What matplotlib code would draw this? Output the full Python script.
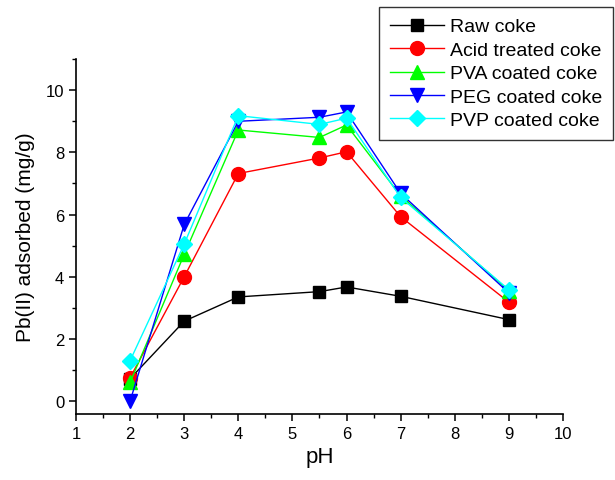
import matplotlib
matplotlib.use("Agg")
import matplotlib.pyplot as plt
from matplotlib.ticker import MultipleLocator

plt.rcParams["font.family"] = ["Liberation Sans", "DejaVu Sans"]

PH = [2, 3, 4, 5.5, 6, 7, 9]
RAW = [0.72, 2.57, 3.35, 3.52, 3.67, 3.37, 2.62]
ACID = [0.75, 4.0, 7.32, 7.82, 8.02, 5.93, 3.18]
PVA = [0.6, 4.72, 8.72, 8.48, 8.88, 6.6, 3.55]
PEG = [0.0, 5.68, 9.0, 9.13, 9.3, 6.68, 3.48]
PVP = [1.3, 5.05, 9.18, 8.9, 9.1, 6.55, 3.58]

SERIES = [
    ("Raw coke", RAW, "black", "s", 9),
    ("Acid treated coke", ACID, "#ff0000", "o", 10),
    ("PVA coated coke", PVA, "#00ff00", "^", 10),
    ("PEG coated coke", PEG, "#0000ff", "v", 10),
    ("PVP coated coke", PVP, "#00ffff", "D", 8.5),
]

fig = plt.figure(figsize=(6.15, 4.81), dpi=100)
ax = fig.add_axes([0.1236, 0.137, 0.7918, 0.738])

for lab, ys, col, mk, ms in SERIES:
    ax.plot(PH, ys, color=col, lw=1.0, marker=mk, ms=ms, mfc=col, mec=col, label=lab)

ax.set_xlim(1, 10)
ax.set_ylim(-0.42, 11)
ax.xaxis.set_major_locator(MultipleLocator(1))
ax.xaxis.set_minor_locator(MultipleLocator(0.5))
ax.yaxis.set_minor_locator(MultipleLocator(1))
ax.set_yticks(range(0, 11, 2))
for s in ("top", "right"):
    ax.spines[s].set_visible(False)
for s in ("left", "bottom"):
    ax.spines[s].set_linewidth(1.2)
ax.tick_params(which="major", direction="out", length=5, width=1.1, labelsize=12)
ax.tick_params(which="minor", direction="out", length=3, width=1.0)
ax.set_xlabel("pH", fontsize=16, labelpad=4)
ax.set_ylabel("Pb(II) adsorbed (mg/g)", fontsize=15, labelpad=8)

leg = fig.legend(loc="upper right", bbox_to_anchor=(0.9967, 0.983), borderaxespad=0,
                 fontsize=14, frameon=True, fancybox=False, edgecolor="black",
                 borderpad=0.55, handlelength=2.8, labelspacing=0.3, handletextpad=0.3)
leg.get_frame().set_linewidth(1.0)

fig.savefig("out.png", dpi=100)
